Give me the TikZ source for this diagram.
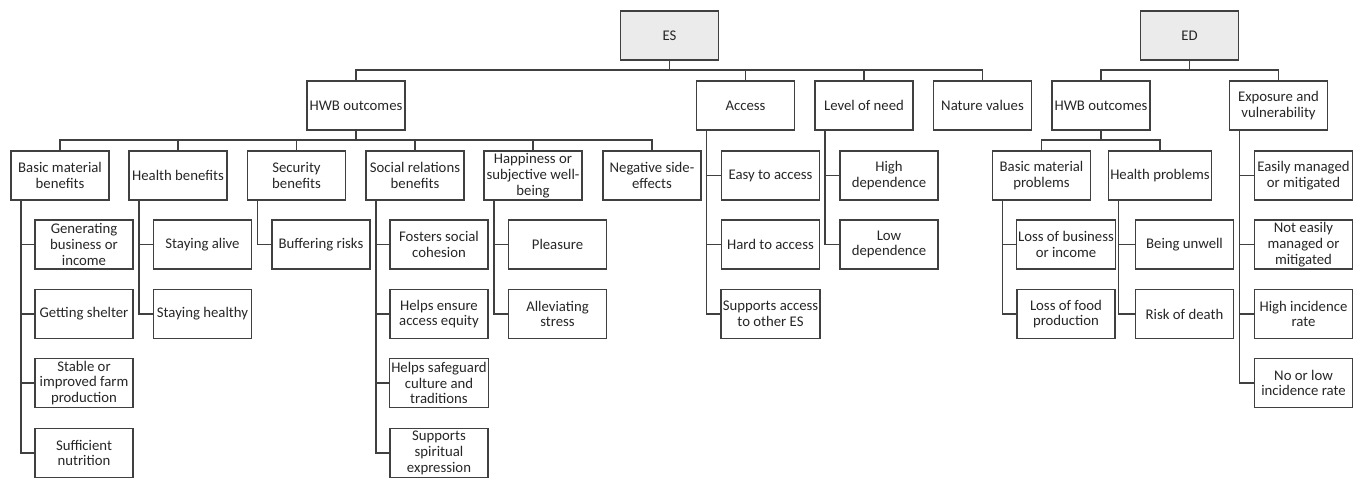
\documentclass[tikz,border=0pt]{standalone}
\usepackage{fontspec}
\setmainfont{Carlito}
\begin{document}
\begin{tikzpicture}[x=0.02cm,y=-0.02cm,
  box/.style={draw=black!75,line width=0.6pt,minimum width=1.96cm,minimum height=0.98cm,
    inner sep=1pt,outer sep=0pt,align=center,text=black!85,font=\fontsize{8.4}{9}\selectfont},
  topbox/.style={box,fill=black!8},
  link/.style={draw=black!75,line width=0.6pt}]
\useasboundingbox (0,0) rectangle (1356,479);

% top level
\node[topbox] (es) at (669.5,35.5) {ES};
\node[topbox] (ed) at (1189.5,35.5) {ED};

% second level
\node[box] (hwb) at (356,105.5) {HWB outcomes};
\node[box] (access) at (745.5,105.5) {Access};
\node[box] (need) at (864,105.5) {Level of need};
\node[box] (nature) at (982.5,105.5) {Nature values};
\node[box] (hwbed) at (1101,105.5) {HWB outcomes};
\node[box] (expo) at (1278.5,105.5) {Exposure and\\vulnerability};

% third level
\node[box] (bmb) at (60,175.5) {Basic material\\benefits};
\node[box] (hb) at (178,175.5) {Health benefits};
\node[box] (sb) at (296.5,175.5) {Security\\benefits};
\node[box] (srb) at (415,175.5) {Social relations\\benefits};
\node[box] (happy) at (533,175.5) {Happiness or\\subjective well-\\being};
\node[box] (neg) at (652,175.5) {Negative side-\\effects};
\node[box] (bmp) at (1041.5,175.5) {Basic material\\problems};
\node[box] (hp) at (1160,175.5) {Health problems};

\node[box] (easy) at (770.5,175.5) {Easy to access};
\node[box] (hard) at (770.5,244.5) {Hard to access};
\node[box] (other) at (770.5,314) {Supports access\\to other ES};
\node[box] (high) at (889,175.5) {High\\dependence};
\node[box] (low) at (889,244.5) {Low\\dependence};
\node[box] (easily) at (1303.5,175.5) {Easily managed\\or mitigated};
\node[box] (noteasily) at (1303.5,244.5) {Not easily\\managed or\\mitigated};
\node[box] (highrate) at (1303.5,314) {High incidence\\rate};
\node[box] (lowrate) at (1303.5,383) {No or low\\incidence rate};

% fourth level
\node[box] (gen) at (84,244.5) {Generating\\business or\\income};
\node[box] (shelter) at (84,314) {Getting shelter};
\node[box] (farm) at (84,383) {Stable or\\improved farm\\production};
\node[box] (nutri) at (84,453) {Sufficient\\nutrition};
\node[box] (alive) at (202.5,244.5) {Staying alive};
\node[box] (healthy) at (202.5,314) {Staying healthy};
\node[box] (buffer) at (321,244.5) {Buffering risks};
\node[box] (cohesion) at (439,244.5) {Fosters social\\cohesion};
\node[box] (equity) at (439,314) {Helps ensure\\access equity};
\node[box] (culture) at (439,383) {Helps safeguard\\culture and\\traditions};
\node[box] (spirit) at (439,453) {Supports\\spiritual\\expression};
\node[box] (pleasure) at (557.5,244.5) {Pleasure};
\node[box] (stress) at (557.5,314) {Alleviating\\stress};
\node[box] (lossbiz) at (1066,244.5) {Loss of business\\or income};
\node[box] (lossfood) at (1066,314) {Loss of food\\production};
\node[box] (unwell) at (1184.5,244.5) {Being unwell};
\node[box] (death) at (1184.5,314) {Risk of death};

% tree links
\foreach \c in {hwb,access,need,nature}
  \draw[link] (es.south) -- +(0,10) -| (\c.north);
\foreach \c in {hwbed,expo}
  \draw[link] (ed.south) -- +(0,10) -| (\c.north);
\foreach \c in {bmb,hb,sb,srb,happy,neg}
  \draw[link] (hwb.south) -- +(0,10) -| (\c.north);
\foreach \c in {bmp,hp}
  \draw[link] (hwbed.south) -- +(0,10) -| (\c.north);

% side links
\foreach \p/\c in {access/easy,access/hard,access/other,need/high,need/low,
    expo/easily,expo/noteasily,expo/highrate,expo/lowrate,
    bmb/gen,bmb/shelter,bmb/farm,bmb/nutri,hb/alive,hb/healthy,sb/buffer,
    srb/cohesion,srb/equity,srb/culture,srb/spirit,happy/pleasure,happy/stress,
    bmp/lossbiz,bmp/lossfood,hp/unwell,hp/death}
  \draw[link] (\p.south west) ++(10,0) |- (\c.west);
\end{tikzpicture}
\end{document}
